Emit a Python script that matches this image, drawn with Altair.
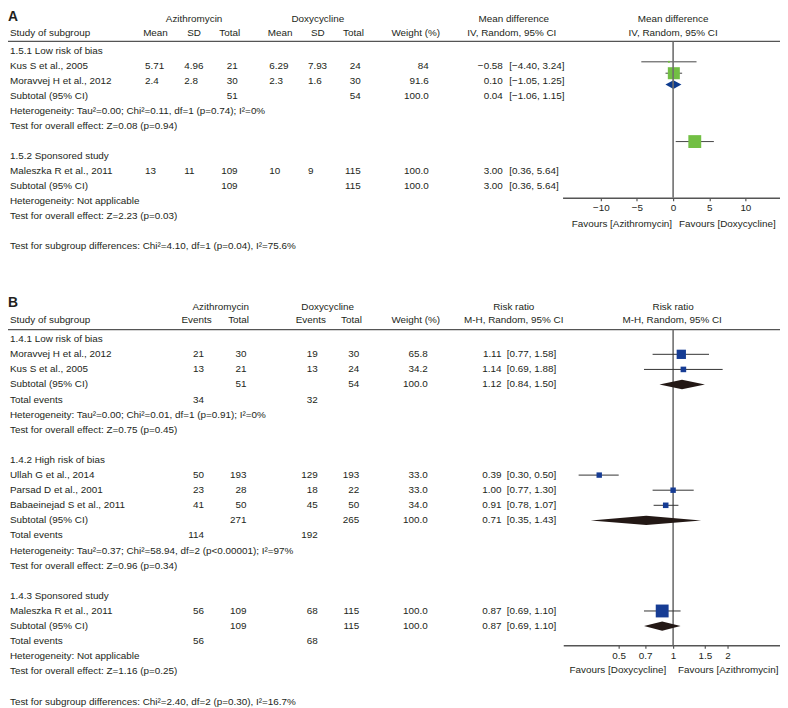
import altair as alt
import pandas as pd

FONT = "Liberation Sans"
TXT = "#231f20"
W, H = 780, 700


def X(ref):
    return max(0.0, ref - 5)


def Y(ref):
    return (ref - 3) * 0.995


# ---------------- Panel A : table rows ----------------
A_r = [0, 1, 2, 3, 4, 5, 7, 8, 9, 10, 11, 13]
A_label = [
    "1.5.1 Low risk of bias",
    "Kus S et al., 2005",
    "Moravvej H et al., 2012",
    "Subtotal (95% CI)",
    "Heterogeneity: Tau²=0.00; Chi²=0.11, df=1 (p=0.74); I²=0%",
    "Test for overall effect: Z=0.08 (p=0.94)",
    "1.5.2 Sponsored study",
    "Maleszka R et al., 2011",
    "Subtotal (95% CI)",
    "Heterogeneity: Not applicable",
    "Test for overall effect: Z=2.23 (p=0.03)",
    "Test for subgroup differences: Chi²=4.10, df=1 (p=0.04), I²=75.6%",
]
A_az_mean = ["", "5.71", "2.4", "", "", "", "", "13", "", "", "", ""]
A_az_sd = ["", "4.96", "2.8", "", "", "", "", "11", "", "", "", ""]
A_az_total = ["", "21", "30", "51", "", "", "", "109", "109", "", "", ""]
A_dx_mean = ["", "6.29", "2.3", "", "", "", "", "10", "", "", "", ""]
A_dx_sd = ["", "7.93", "1.6", "", "", "", "", "9", "", "", "", ""]
A_dx_total = ["", "24", "30", "54", "", "", "", "115", "115", "", "", ""]
A_weight = ["", "84", "91.6", "100.0", "", "", "", "100.0", "100.0", "", "", ""]
A_est = ["", "−0.58", "0.10", "0.04", "", "", "", "3.00", "3.00", "", "", ""]
A_ci = ["", "[−4.40, 3.24]", "[−1.05, 1.25]", "[−1.06, 1.15]", "", "", "",
        "[0.36, 5.64]", "[0.36, 5.64]", "", "", ""]

# Panel A : forest values
A_study_r = [1, 2, 8]
A_md = [-0.58, 0.10, 3.00]
A_md_lo = [-4.40, -1.05, 0.36]
A_md_hi = [3.24, 1.25, 5.64]
A_md_w = [8.4, 91.6, 100.0]
A_tot_r = [3]
A_tot_md = [0.04]
A_tot_lo = [-1.06]
A_tot_hi = [1.15]
A_ticks = [-10, -5, 0, 5, 10]

# ---------------- Panel B : table rows ----------------
B_r = [0, 1, 2, 3, 4, 5, 6, 8, 9, 10, 11, 12, 13, 14, 15, 17, 18, 19, 20, 21, 22, 24]
B_label = [
    "1.4.1 Low risk of bias",
    "Moravvej H et al., 2012",
    "Kus S et al., 2005",
    "Subtotal (95% CI)",
    "Total events",
    "Heterogeneity: Tau²=0.00; Chi²=0.01, df=1 (p=0.91); I²=0%",
    "Test for overall effect: Z=0.75 (p=0.45)",
    "1.4.2 High risk of bias",
    "Ullah G et al., 2014",
    "Parsad D et al., 2001",
    "Babaeinejad S et al., 2011",
    "Subtotal (95% CI)",
    "Total events",
    "Heterogeneity: Tau²=0.37; Chi²=58.94, df=2 (p<0.00001); I²=97%",
    "Test for overall effect: Z=0.96 (p=0.34)",
    "1.4.3 Sponsored study",
    "Maleszka R et al., 2011",
    "Subtotal (95% CI)",
    "Total events",
    "Heterogeneity: Not applicable",
    "Test for overall effect: Z=1.16 (p=0.25)",
    "Test for subgroup differences: Chi²=2.40, df=2 (p=0.30), I²=16.7%",
]
B_az_ev = ["", "21", "13", "", "34", "", "", "", "50", "23", "41", "", "114", "", "", "", "56", "", "56", "", "", ""]
B_az_tot = ["", "30", "21", "51", "", "", "", "", "193", "28", "50", "271", "", "", "", "", "109", "109", "", "", "", ""]
B_dx_ev = ["", "19", "13", "", "32", "", "", "", "129", "18", "45", "", "192", "", "", "", "68", "", "68", "", "", ""]
B_dx_tot = ["", "30", "24", "54", "", "", "", "", "193", "22", "50", "265", "", "", "", "", "115", "115", "", "", "", ""]
B_weight = ["", "65.8", "34.2", "100.0", "", "", "", "", "33.0", "33.0", "34.0", "100.0", "", "", "", "", "100.0", "100.0", "", "", "", ""]
B_est = ["", "1.11", "1.14", "1.12", "", "", "", "", "0.39", "1.00", "0.91", "0.71", "", "", "", "", "0.87", "0.87", "", "", "", ""]
B_ci = ["", "[0.77, 1.58]", "[0.69, 1.88]", "[0.84, 1.50]", "", "", "", "",
        "[0.30, 0.50]", "[0.77, 1.30]", "[0.78, 1.07]", "[0.35, 1.43]", "", "", "", "",
        "[0.69, 1.10]", "[0.69, 1.10]", "", "", "", ""]

# Panel B : forest values
B_study_r = [1, 2, 9, 10, 11, 18]
B_rr = [1.11, 1.14, 0.39, 1.00, 0.91, 0.87]
B_rr_lo = [0.77, 0.69, 0.30, 0.77, 0.78, 0.69]
B_rr_hi = [1.58, 1.88, 0.50, 1.30, 1.07, 1.10]
B_rr_w = [65.8, 34.2, 33.0, 33.0, 34.0, 100.0]
B_tot_r = [3, 12, 19]
B_tot_rr = [1.12, 0.71, 0.87]
B_tot_lo = [0.84, 0.35, 0.69]
B_tot_hi = [1.50, 1.43, 1.10]
B_ticks = [0.5, 0.7, 1, 1.5, 2]

# ---------------- tables ----------------
dfA = pd.DataFrame(dict(r=A_r, label=A_label, az_mean=A_az_mean, az_sd=A_az_sd, az_total=A_az_total,
                        dx_mean=A_dx_mean, dx_sd=A_dx_sd, dx_total=A_dx_total, weight=A_weight,
                        est=A_est, ci=A_ci))
dfB = pd.DataFrame(dict(r=B_r, label=B_label, az_ev=B_az_ev, az_tot=B_az_tot, dx_ev=B_dx_ev,
                        dx_tot=B_dx_tot, weight=B_weight, est=B_est, ci=B_ci))
dfA_st = pd.DataFrame(dict(r=A_study_r, est=A_md, lo=A_md_lo, hi=A_md_hi, w=A_md_w))
dfB_st = pd.DataFrame(dict(r=B_study_r, est=B_rr, lo=B_rr_lo, hi=B_rr_hi, w=B_rr_w))


def diamond_df(rs, est, lo, hi, h):
    rows = []
    for i, (r, e, l, u) in enumerate(zip(rs, est, lo, hi)):
        rows.append(dict(id=i, x=l, y1=r, y2=r))
        rows.append(dict(id=i, x=e, y1=r - h, y2=r + h))
        rows.append(dict(id=i, x=u, y1=r, y2=r))
    return pd.DataFrame(rows)


dfA_dia = diamond_df(A_tot_r, A_tot_md, A_tot_lo, A_tot_hi, 0.39)
dfB_dia = diamond_df(B_tot_r, B_tot_rr, B_tot_lo, B_tot_hi, 0.31)
ONE = pd.DataFrame({"k": [0]})

# ---------------- scales ----------------
ysA_text = alt.Scale(domain=[0, 13], range=[Y(43.3), Y(43.3 + 15.2 * 13)], nice=False, zero=False)
ysA_plot = alt.Scale(domain=[0, 13], range=[Y(42.43), Y(42.43 + 11.57 * 13)], nice=False, zero=False)
ysB = alt.Scale(domain=[0, 24], range=[Y(335.7), Y(335.7 + 15.33 * 24)], nice=False, zero=False)
xsA = alt.Scale(domain=[-15.3, 15.3], range=[X(565.3), X(788.7)], nice=False, zero=False)
xsB = alt.Scale(type="log", domain=[0.2466, 4.055], range=[X(566), X(788)], nice=False)
size_scale = alt.Scale(type="pow", exponent=1.56, domain=[0, 100], range=[0, 169])

layers = []


def col(df, field, xref, align, yscale):
    return alt.Chart(df).mark_text(align=align, baseline="middle", font=FONT, fontSize=10, color=TXT).encode(
        x=alt.value(X(xref)),
        y=alt.Y("r:Q", scale=yscale, axis=None),
        text=alt.Text(f"{field}:N"),
    )


def label(txt, xref, yref, align="center", size=10, weight="normal"):
    return alt.Chart(ONE).mark_text(align=align, baseline="middle", font=FONT, fontSize=size,
                                    fontWeight=weight, color=TXT).encode(
        x=alt.value(X(xref)), y=alt.value(Y(yref)), text=alt.value(txt))


def hrule(yref):
    return alt.Chart(ONE).mark_rule(color="#555555", strokeWidth=1.2).encode(
        x=alt.value(0), x2=alt.value(W), y=alt.value(Y(yref)))


def axis_cfg(values, fmt, yref):
    return alt.Axis(orient="bottom", offset=Y(yref) - H, values=values, format=fmt,
                    domainColor="#555555", domainWidth=1.5, tickColor="#555555", tickWidth=1.2,
                    tickSize=3, labelPadding=2, labelFont=FONT, labelFontSize=10, labelColor=TXT,
                    grid=False, labelOverlap=False, labelFlush=False)


# ================= Panel A =================
layers.append(alt.Chart(ONE).mark_text(align="left", baseline="middle", font=FONT, fontSize=14,
                                        fontWeight="bold", color=TXT).encode(
    x=alt.value(0), y=alt.value(max(6.0, Y(8))), text=alt.value("A")))
for t, xr in [("Azithromycin", 193), ("Doxycycline", 318), ("Mean difference", 516), ("Mean difference", 677)]:
    layers.append(label(t, xr, 11))
layers.append(label("Study of subgroup", 7, 24.3, align="left"))
for t, xr in [("Mean", 154), ("SD", 193), ("Total", 229), ("Mean", 280), ("SD", 318), ("Total", 354),
              ("Weight (%)", 417), ("IV, Random, 95% CI", 514), ("IV, Random, 95% CI", 677)]:
    layers.append(label(t, xr, 24.3))
layers.append(hrule(33.3))

for field, xr, al in [("label", 7, "left"), ("az_mean", 143.5, "left"), ("az_sd", 183, "left"),
                      ("az_total", 237, "right"), ("dx_mean", 269, "left"), ("dx_sd", 308, "left"),
                      ("dx_total", 361.5, "right"), ("weight", 430, "right"), ("est", 505, "right"),
                      ("ci", 511.5, "left")]:
    layers.append(col(dfA, field, xr, al, ysA_text))

# forest A
layers.append(alt.Chart(dfA_st).mark_rule(color="#444444", strokeWidth=1).encode(
    x=alt.X("lo:Q", scale=xsA, axis=axis_cfg(A_ticks, "d", 192), title=None),
    x2="hi:Q",
    y=alt.Y("r:Q", scale=ysA_plot, axis=None)))
layers.append(alt.Chart(dfA_st).mark_square(color="#72bf44", opacity=1).encode(
    x=alt.X("est:Q", scale=xsA, axis=None),
    y=alt.Y("r:Q", scale=ysA_plot, axis=None),
    size=alt.Size("w:Q", scale=size_scale, legend=None)))
layers.append(alt.Chart(dfA_dia).mark_area(orient="vertical", color="#0d3b8e", opacity=1).encode(
    x=alt.X("x:Q", scale=xsA, axis=None),
    y=alt.Y("y1:Q", scale=ysA_plot, axis=None),
    y2="y2:Q",
    detail="id:N"))
layers.append(alt.Chart(ONE).mark_rule(color="#6e6e6e", strokeWidth=1.6).encode(
    x=alt.XDatum(0, type="quantitative", scale=xsA, axis=None),
    y=alt.value(Y(33.3)), y2=alt.value(Y(192))))
layers.append(alt.Chart(ONE).mark_text(align="right", baseline="middle", dx=-1, font=FONT, fontSize=10,
                                        color=TXT).encode(
    x=alt.XDatum(0, type="quantitative", scale=xsA, axis=None),
    y=alt.value(Y(219)), text=alt.value("Favours [Azithromycin]")))
layers.append(alt.Chart(ONE).mark_text(align="left", baseline="middle", dx=6, font=FONT, fontSize=10,
                                        color=TXT).encode(
    x=alt.XDatum(0, type="quantitative", scale=xsA, axis=None),
    y=alt.value(Y(219)), text=alt.value("Favours [Doxycycline]")))

# ================= Panel B =================
layers.append(alt.Chart(ONE).mark_text(align="left", baseline="middle", font=FONT, fontSize=14,
                                        fontWeight="bold", color=TXT).encode(
    x=alt.value(0), y=alt.value(Y(298.5)), text=alt.value("B")))
for t, xr in [("Azithromycin", 220), ("Doxycycline", 328), ("Risk ratio", 516), ("Risk ratio", 677)]:
    layers.append(label(t, xr, 302.5))
layers.append(label("Study of subgroup", 7, 316.7, align="left"))
for t, xr in [("Events", 195.5), ("Total", 238), ("Events", 311), ("Total", 352), ("Weight (%)", 417),
              ("M-H, Random, 95% CI", 516), ("M-H, Random, 95% CI", 676)]:
    layers.append(label(t, xr, 316.7))
layers.append(hrule(326))

for field, xr, al in [("label", 7, "left"), ("az_ev", 203, "right"), ("az_tot", 246, "right"),
                      ("dx_ev", 318, "right"), ("dx_tot", 360, "right"), ("weight", 429, "right"),
                      ("est", 503.5, "right"), ("ci", 509, "left")]:
    layers.append(col(dfB, field, xr, al, ysB))

# forest B
layers.append(alt.Chart(ONE).mark_rule(color="#6e6e6e", strokeWidth=1.6).encode(
    x=alt.XDatum(1, type="quantitative", scale=xsB, axis=None),
    y=alt.value(Y(326)), y2=alt.value(Y(646.5))))
layers.append(alt.Chart(dfB_st).mark_rule(color="#333333", strokeWidth=1).encode(
    x=alt.X("lo:Q", scale=xsB, axis=axis_cfg(B_ticks, "~g", 646.5), title=None),
    x2="hi:Q",
    y=alt.Y("r:Q", scale=ysB, axis=None)))
layers.append(alt.Chart(dfB_st).mark_square(color="#163c94", opacity=1).encode(
    x=alt.X("est:Q", scale=xsB, axis=None),
    y=alt.Y("r:Q", scale=ysB, axis=None),
    size=alt.Size("w:Q", scale=size_scale, legend=None)))
layers.append(alt.Chart(dfB_dia).mark_area(orient="vertical", color="#231815", opacity=1).encode(
    x=alt.X("x:Q", scale=xsB, axis=None),
    y=alt.Y("y1:Q", scale=ysB, axis=None),
    y2="y2:Q",
    detail="id:N"))
layers.append(alt.Chart(ONE).mark_text(align="right", baseline="middle", dx=-7, font=FONT, fontSize=10,
                                        color=TXT).encode(
    x=alt.XDatum(1, type="quantitative", scale=xsB, axis=None),
    y=alt.value(Y(671.7)), text=alt.value("Favours [Doxycycline]")))
layers.append(alt.Chart(ONE).mark_text(align="left", baseline="middle", dx=5, font=FONT, fontSize=10,
                                        color=TXT).encode(
    x=alt.XDatum(1, type="quantitative", scale=xsB, axis=None),
    y=alt.value(Y(671.7)), text=alt.value("Favours [Azithromycin]")))

chart = alt.layer(*layers).resolve_scale(
    x="independent", y="independent", size="independent"
).properties(
    width=W, height=H, autosize=alt.AutoSizeParams(type="none"), padding=0, background="white"
).configure_view(strokeWidth=0)

chart.save("out.html", embed_options={"renderer": "svg", "actions": False})
